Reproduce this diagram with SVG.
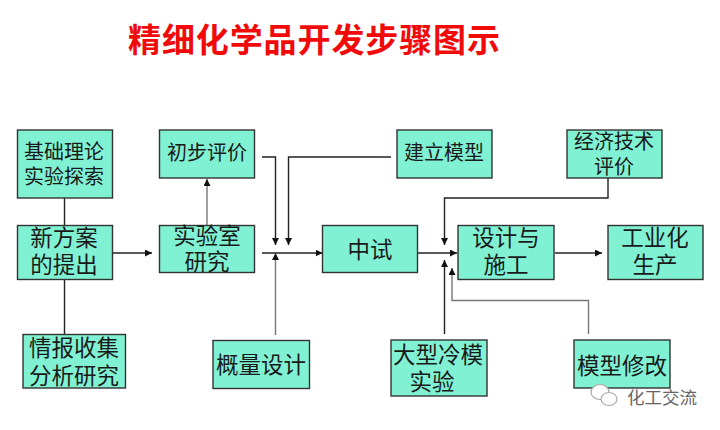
<svg xmlns="http://www.w3.org/2000/svg" width="720" height="430" viewBox="0 0 720 430">
<style>
.n{fill:#80f2d3;stroke:#333;stroke-width:1.4}
.t{font-family:"Noto Sans CJK SC","Liberation Sans",sans-serif;font-size:22.500px;fill:#1a1a1a;text-anchor:middle}
.s{font-size:20px}
.c{fill:none;stroke:#222;stroke-width:1.4}
.g{stroke:#777}
.title{font-family:"Noto Sans CJK SC","Liberation Sans",sans-serif;font-size:33px;font-weight:700;fill:#f00a0a}
.w{font-family:"Noto Sans CJK SC","Liberation Sans",sans-serif;font-size:17.500px;fill:#666}
</style>
<defs>
<marker id="a" markerUnits="userSpaceOnUse" markerWidth="8" markerHeight="7" refX="7" refY="3.500" orient="auto"><path d="M0 0L7 3.500L0 7z" fill="#111"/></marker>
</defs>
<rect width="720" height="430" fill="#fff"/>
<text class="title" x="128" y="52" textLength="372">精细化学品开发步骤图示</text>
<g id="connectors">
<path class="c" d="M64.500 185V225M64.500 273V334"/>
<path class="c" d="M112 253H152" marker-end="url(#a)"/>
<path class="c g" d="M207 225V179" marker-end="url(#a)"/>
<path class="c" d="M262 157H275.500V245" marker-end="url(#a)"/>
<path class="c" d="M391 157H288.500V245" marker-end="url(#a)"/>
<path class="c" d="M262 253H322.500" marker-end="url(#a)"/>
<path class="c g" d="M275.500 335V253" marker-end="url(#a)"/>
<path class="c" d="M418 253H457" marker-end="url(#a)"/>
<path class="c" d="M608 178V198H444.500V245" marker-end="url(#a)"/>
<path class="c" d="M444.500 334V260" marker-end="url(#a)"/>
<path class="c g" d="M588.500 334V300.500H452V268" marker-end="url(#a)"/>
<path class="c" d="M555 253H602" marker-end="url(#a)"/>
</g>
<g id="n1"><rect class="n" x="17.500" y="130" width="95" height="68"/><text class="t s" x="64" y="159">基础理论</text><text class="t s" x="64" y="184">实验探索</text></g>
<g id="n2"><rect class="n" x="17.500" y="225.500" width="95" height="54"/><text class="t" x="64" y="246">新方案</text><text class="t" x="64" y="273">的提出</text></g>
<g id="n3"><rect class="n" x="23" y="334.500" width="102.500" height="53.500"/><text class="t" x="74" y="356">情报收集</text><text class="t" x="74" y="384">分析研究</text></g>
<g id="n4"><rect class="n" x="159.500" y="130" width="95" height="48"/><text class="t s" x="207" y="160">初步评价</text></g>
<g id="n5"><rect class="n" x="159.500" y="225.500" width="95" height="47"/><text class="t" x="207" y="244">实验室</text><text class="t" x="207" y="270">研究</text></g>
<g id="n6"><rect class="n" x="213" y="340.500" width="96.500" height="48"/><text class="t" x="261" y="373">概量设计</text></g>
<g id="n7"><rect class="n" x="322.500" y="225.500" width="95" height="47"/><text class="t" x="370" y="258">中试</text></g>
<g id="n8"><rect class="n" x="397" y="130" width="95" height="48"/><text class="t s" x="444" y="160">建立模型</text></g>
<g id="n9"><rect class="n" x="458" y="225.500" width="96" height="54"/><text class="t" x="506" y="246">设计与</text><text class="t" x="506" y="273">施工</text></g>
<g id="n10"><rect class="n" x="567" y="130" width="95" height="48"/><text class="t s" x="614" y="149">经济技术</text><text class="t s" x="614" y="174">评价</text></g>
<g id="n11"><rect class="n" x="608" y="225.500" width="95" height="54"/><text class="t" x="655" y="246">工业化</text><text class="t" x="655" y="273">生产</text></g>
<g id="n12"><rect class="n" x="391" y="340" width="96" height="56"/><text class="t" x="438" y="363">大型冷模</text><text class="t" x="432" y="390">实验</text></g>
<g id="n13"><rect class="n" x="574" y="340" width="96" height="48"/><text class="t" x="622" y="374">模型修改</text></g>
<g id="watermark">
<ellipse cx="600" cy="392" rx="9" ry="7.500" fill="#fff" stroke="#aaa" stroke-width="1.200"/>
<ellipse cx="609" cy="399" rx="8" ry="6.500" fill="#fff" stroke="#aaa" stroke-width="1.200"/>
<text class="w" x="627" y="404">化工交流</text>
</g>
</svg>
